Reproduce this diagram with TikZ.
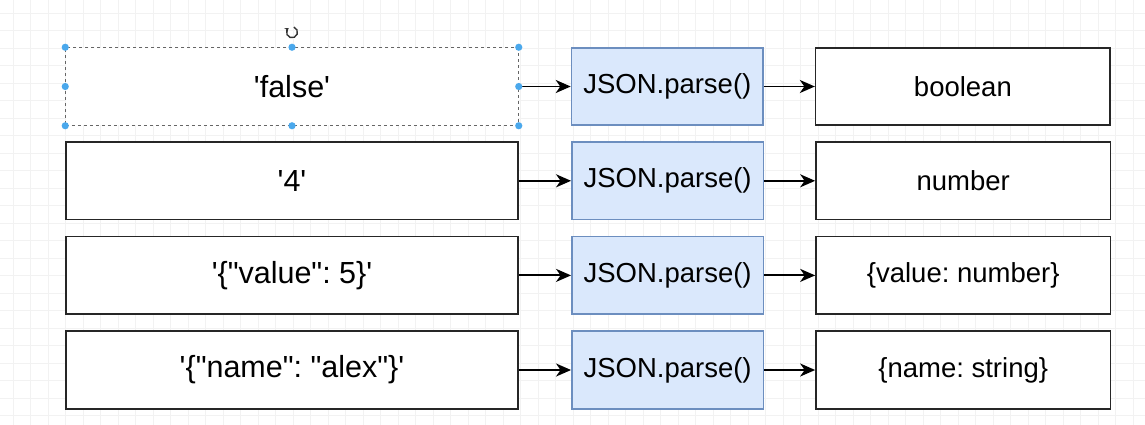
\documentclass[tikz,border=0pt]{standalone}
\usepackage{fontspec}
\setmainfont{Liberation Sans}
\usetikzlibrary{arrows.meta,positioning}
\definecolor{parsefill}{HTML}{DAE8FC}
\definecolor{parseline}{HTML}{6C8EBF}
\definecolor{handle}{HTML}{4AA8EC}
\newcommand{\sq}{\textquotesingle}
\newcommand{\dq}{\textquotedbl}
\frenchspacing

\begin{document}
\begin{tikzpicture}[x=1pt,y=-1pt,
    src/.style={draw=black!85,line width=1.6pt,fill=white,
                minimum width=452.5pt,minimum height=77.5pt,inner sep=0pt,
                font=\fontsize{30.5}{36}\selectfont},
    parse/.style={draw=parseline,line width=1.6pt,fill=parsefill,
                minimum width=191.5pt,minimum height=77.5pt,inner sep=0pt,
                font=\fontsize{27.5}{33}\selectfont},
    res/.style={draw=black!85,line width=1.6pt,fill=white,
                minimum width=294.5pt,minimum height=77.5pt,inner sep=0pt,
                font=\fontsize{27.5}{33}\selectfont},
    flow/.style={-{Stealth[length=15pt,width=13pt,inset=4.5pt]},line width=1.9pt}
  ]
    \useasboundingbox (0,0) rectangle (1145,425);
    \fill[white] (0,0) rectangle (1145,425);
    % faint editor grid behind the shapes
    \begin{scope}[shift={(13,13)}]
      \draw[black!5,line width=0.8pt] (-13,-13) grid[step=17.5pt] (1132,412);
    \end{scope}

    \node[src,draw=black!60,dashed,line width=1pt] (s1) at (292,86.5) {\sq{}false\sq};
    \node[src,below=15.5pt of s1] (s2) {\sq{}4\sq};
    \node[src,below=15.5pt of s2] (s3) {\sq\{\dq{}value\dq: 5\}\sq};
    \node[src,below=15.5pt of s3] (s4) {\sq\{\dq{}name\dq: \dq{}alex\dq\}\sq};

    \node[parse,right=52pt of s1] (p1) {JSON.parse()};
    \node[parse,right=52pt of s2] (p2) {JSON.parse()};
    \node[parse,right=52pt of s3] (p3) {JSON.parse()};
    \node[parse,right=52pt of s4] (p4) {JSON.parse()};

    \node[res,right=51pt of p1] (r1) {boolean};
    \node[res,right=51pt of p2] (r2) {number};
    \node[res,right=51pt of p3] (r3) {\{value: number\}};
    \node[res,right=51pt of p4] (r4) {\{name: string\}};

    \draw[flow] (s1) -- (p1);
    \draw[flow] (s2) -- (p2);
    \draw[flow] (s3) -- (p3);
    \draw[flow] (s4) -- (p4);
    \draw[flow] (p1) -- (r1);
    \draw[flow] (p2) -- (r2);
    \draw[flow] (p3) -- (r3);
    \draw[flow] (p4) -- (r4);

    % selection handles on the first box
    \foreach \a in {north west,north,north east,east,south east,south,south west,west}
      \fill[handle] (s1.\a) circle (3.6pt);
    \coordinate[above=15pt of s1.north] (turn);
    \draw[black!80,line width=1.4pt,-{Stealth[length=3.5pt,width=5pt]}]
      ([shift={(70:5.5pt)}]turn) arc[start angle=70,end angle=-230,radius=5.5pt];
  \end{tikzpicture}
\end{document}
